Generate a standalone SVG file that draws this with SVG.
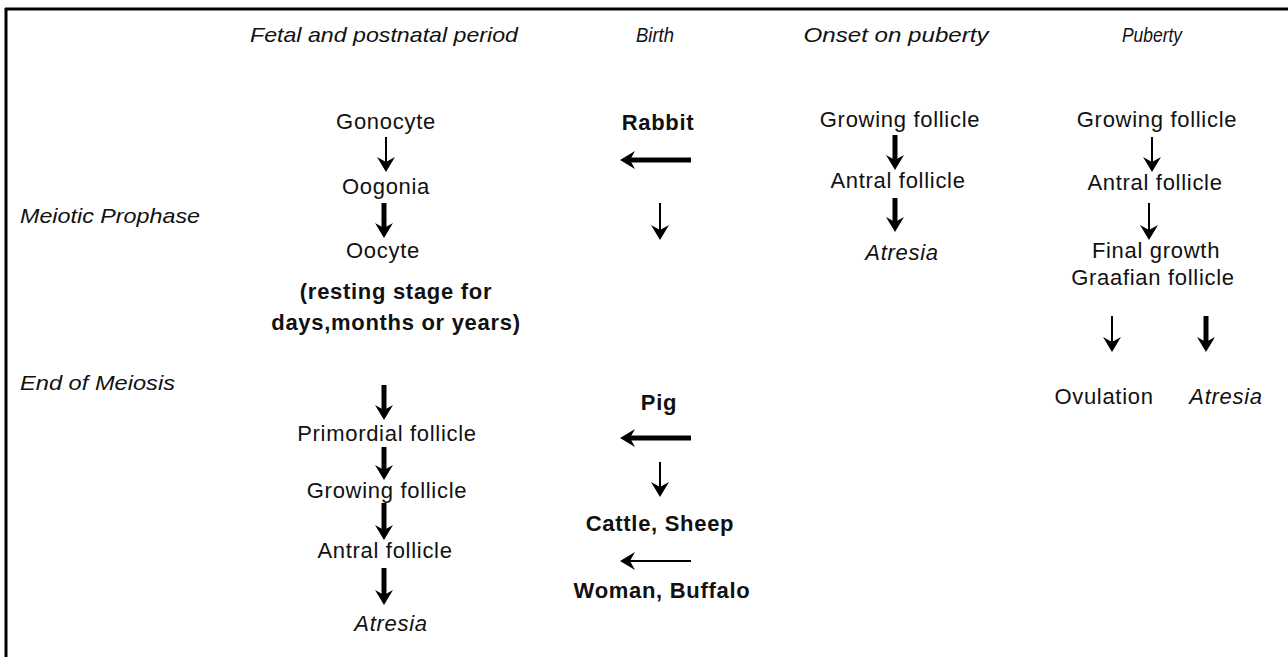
<svg xmlns="http://www.w3.org/2000/svg" xmlns:xlink="http://www.w3.org/1999/xlink" width="1288" height="657" viewBox="0 0 1288 657">
<style>
.t{font-family:"Liberation Sans",Arial,sans-serif;font-size:22px;letter-spacing:0.7px;fill:#111;text-anchor:middle}
.h{font-family:"Liberation Sans",Arial,sans-serif;font-size:21px;font-style:italic;fill:#111;text-anchor:middle}
.r{font-family:"Liberation Sans",Arial,sans-serif;font-size:21px;font-style:italic;fill:#111}
.b{font-weight:bold}
.i{font-style:italic}
.thin{stroke:#000;stroke-width:2;fill:none}
.thick{stroke:#000;stroke-width:5;fill:none}
</style>
<defs>
<path id="hd" d="M-9,-15 L0,0 L9,-15 L0,-10 Z" fill="#000"/>
<path id="hl" d="M15,-9 L0,0 L15,9 L10,0 Z" fill="#000"/>
</defs>
<rect width="1288" height="657" fill="#fff"/>
<g id="frame">
<line x1="5" y1="9" x2="1288" y2="9" stroke="#000" stroke-width="3"/>
<line x1="6" y1="8" x2="6" y2="657" stroke="#000" stroke-width="3"/>
</g>
<g id="headers">
<text class="h" x="384" y="42" textLength="268" lengthAdjust="spacingAndGlyphs">Fetal and postnatal period</text>
<text class="h" x="655" y="42" textLength="38" lengthAdjust="spacingAndGlyphs">Birth</text>
<text class="h" x="896" y="42" textLength="185" lengthAdjust="spacingAndGlyphs">Onset on puberty</text>
<text class="h" x="1152" y="42" textLength="60" lengthAdjust="spacingAndGlyphs">Puberty</text>
</g>
<g id="rowlabels">
<text class="r" x="20" y="223" textLength="180" lengthAdjust="spacingAndGlyphs">Meiotic Prophase</text>
<text class="r" x="20" y="390" textLength="155" lengthAdjust="spacingAndGlyphs">End of Meiosis</text>
</g>
<g id="n-gonocyte"><text class="t" x="386" y="129">Gonocyte</text></g>
<g id="n-oogonia"><text class="t" x="386" y="194">Oogonia</text></g>
<g id="n-oocyte"><text class="t" x="383" y="258">Oocyte</text></g>
<g id="n-resting"><text class="t b" x="396" y="299">(resting stage for</text><text class="t b" x="396" y="330">days,months or years)</text></g>
<g id="n-primordial"><text class="t" x="387" y="441">Primordial follicle</text></g>
<g id="n-growing1"><text class="t" x="387" y="498">Growing follicle</text></g>
<g id="n-antral1"><text class="t" x="385" y="558">Antral follicle</text></g>
<g id="n-atresia1"><text class="t i" x="391" y="631">Atresia</text></g>
<g id="n-rabbit"><text class="t b" x="658" y="130">Rabbit</text></g>
<g id="n-pig"><text class="t b" x="659" y="410">Pig</text></g>
<g id="n-cattle"><text class="t b" x="660" y="531">Cattle, Sheep</text></g>
<g id="n-woman"><text class="t b" x="662" y="598">Woman, Buffalo</text></g>
<g id="n-growing2"><text class="t" x="900" y="127">Growing follicle</text></g>
<g id="n-antral2"><text class="t" x="898" y="188">Antral follicle</text></g>
<g id="n-atresia2"><text class="t i" x="902" y="260">Atresia</text></g>
<g id="n-growing3"><text class="t" x="1157" y="127">Growing follicle</text></g>
<g id="n-antral3"><text class="t" x="1155" y="190">Antral follicle</text></g>
<g id="n-final"><text class="t" x="1156" y="258">Final growth</text><text class="t" x="1153" y="285">Graafian follicle</text></g>
<g id="n-ovulation"><text class="t" x="1104" y="404">Ovulation</text></g>
<g id="n-atresia3"><text class="t i" x="1226" y="404">Atresia</text></g>
<g id="connectors">
<line class="thin" x1="386" y1="137" x2="386" y2="164"/><use xlink:href="#hd" x="386" y="172"/>
<line class="thick" x1="384" y1="203" x2="384" y2="230"/><use xlink:href="#hd" x="384" y="238"/>
<line class="thick" x1="384" y1="385" x2="384" y2="412"/><use xlink:href="#hd" x="384" y="420"/>
<line class="thick" x1="384" y1="447" x2="384" y2="472"/><use xlink:href="#hd" x="384" y="480"/>
<line class="thick" x1="384" y1="503" x2="384" y2="532"/><use xlink:href="#hd" x="384" y="540"/>
<line class="thick" x1="384" y1="568" x2="384" y2="597"/><use xlink:href="#hd" x="384" y="605"/>
<line class="thick" x1="691" y1="160" x2="628" y2="160"/><use xlink:href="#hl" x="620" y="160"/>
<line class="thin" x1="660" y1="203" x2="660" y2="232"/><use xlink:href="#hd" x="660" y="240"/>
<line class="thick" x1="691" y1="438" x2="628" y2="438"/><use xlink:href="#hl" x="620" y="438"/>
<line class="thin" x1="660" y1="462" x2="660" y2="489"/><use xlink:href="#hd" x="660" y="497"/>
<line class="thin" x1="691" y1="561" x2="628" y2="561"/><use xlink:href="#hl" x="620" y="561"/>
<line class="thick" x1="895" y1="135" x2="895" y2="162"/><use xlink:href="#hd" x="895" y="170"/>
<line class="thick" x1="895" y1="198" x2="895" y2="224"/><use xlink:href="#hd" x="895" y="232"/>
<line class="thin" x1="1152" y1="137" x2="1152" y2="164"/><use xlink:href="#hd" x="1152" y="172"/>
<line class="thin" x1="1149" y1="203" x2="1149" y2="232"/><use xlink:href="#hd" x="1149" y="240"/>
<line class="thin" x1="1112" y1="316" x2="1112" y2="344"/><use xlink:href="#hd" x="1112" y="352"/>
<line class="thick" x1="1206" y1="316" x2="1206" y2="344"/><use xlink:href="#hd" x="1206" y="352"/>
</g>
</svg>
